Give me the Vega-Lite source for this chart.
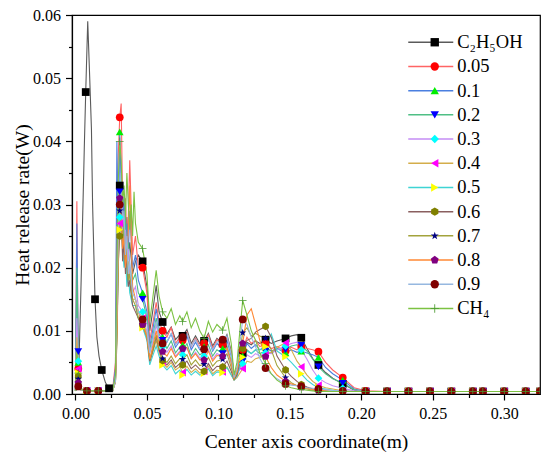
{
  "$schema": "https://vega.github.io/schema/vega-lite/v6.json",
  "width": 468,
  "height": 379,
  "autosize": {"type": "none"},
  "padding": {"left": 72, "top": 15, "right": 10, "bottom": 68},
  "background": "white",
  "data": {
    "values": [
      {"s":"C₂H₅OH","x":0,"y":0.0005},{"s":"C₂H₅OH","x":0.0015,"y":0.0008},{"s":"C₂H₅OH","x":0.0025,"y":0.005},{"s":"C₂H₅OH","x":0.004,"y":0.018},{"s":"C₂H₅OH","x":0.0058,"y":0.035},{"s":"C₂H₅OH","x":0.0062,"y":0.039},{"s":"C₂H₅OH","x":0.0072,"y":0.0478},{"s":"C₂H₅OH","x":0.0086,"y":0.059},{"s":"C₂H₅OH","x":0.01,"y":0.05},{"s":"C₂H₅OH","x":0.0112,"y":0.042},{"s":"C₂H₅OH","x":0.012,"y":0.03},{"s":"C₂H₅OH","x":0.0137,"y":0.015},{"s":"C₂H₅OH","x":0.015,"y":0.009},{"s":"C₂H₅OH","x":0.0165,"y":0.006},{"s":"C₂H₅OH","x":0.0184,"y":0.0038},{"s":"C₂H₅OH","x":0.021,"y":0.0018},{"s":"C₂H₅OH","x":0.0235,"y":0.0009},{"s":"C₂H₅OH","x":0.026,"y":0.0005},
      {"s":"C₂H₅OH","x":0.028,"y":0.003},{"s":"C₂H₅OH","x":0.029,"y":0.015},{"s":"C₂H₅OH","x":0.03,"y":0.027},{"s":"C₂H₅OH","x":0.031,"y":0.033},{"s":"C₂H₅OH","x":0.032,"y":0.029},{"s":"C₂H₅OH","x":0.033,"y":0.027},{"s":"C₂H₅OH","x":0.034,"y":0.031},{"s":"C₂H₅OH","x":0.035,"y":0.025},{"s":"C₂H₅OH","x":0.036,"y":0.028},{"s":"C₂H₅OH","x":0.037,"y":0.022},{"s":"C₂H₅OH","x":0.038,"y":0.024},{"s":"C₂H₅OH","x":0.04,"y":0.019},{"s":"C₂H₅OH","x":0.042,"y":0.021},{"s":"C₂H₅OH","x":0.044,"y":0.022},{"s":"C₂H₅OH","x":0.047,"y":0.021},
      {"s":"C₂H₅OH","x":0.05,"y":0.017},{"s":"C₂H₅OH","x":0.052,"y":0.01},{"s":"C₂H₅OH","x":0.054,"y":0.013},{"s":"C₂H₅OH","x":0.0565,"y":0.0172},{"s":"C₂H₅OH","x":0.0585,"y":0.013},{"s":"C₂H₅OH","x":0.061,"y":0.0114},{"s":"C₂H₅OH","x":0.064,"y":0.0095},{"s":"C₂H₅OH","x":0.067,"y":0.0106},{"s":"C₂H₅OH","x":0.07,"y":0.0086},{"s":"C₂H₅OH","x":0.073,"y":0.0094},{"s":"C₂H₅OH","x":0.075,"y":0.0092},{"s":"C₂H₅OH","x":0.078,"y":0.0102},{"s":"C₂H₅OH","x":0.081,"y":0.008},{"s":"C₂H₅OH","x":0.084,"y":0.0092},{"s":"C₂H₅OH","x":0.087,"y":0.008},{"s":"C₂H₅OH","x":0.09,"y":0.0084},{"s":"C₂H₅OH","x":0.093,"y":0.0096},{"s":"C₂H₅OH","x":0.096,"y":0.0076},{"s":"C₂H₅OH","x":0.099,"y":0.0088},{"s":"C₂H₅OH","x":0.103,"y":0.008},{"s":"C₂H₅OH","x":0.106,"y":0.0094},{"s":"C₂H₅OH","x":0.109,"y":0.0068},{"s":"C₂H₅OH","x":0.111,"y":0.0028},
      {"s":"C₂H₅OH","x":0.113,"y":0.004},{"s":"C₂H₅OH","x":0.117,"y":0.0065},{"s":"C₂H₅OH","x":0.12,"y":0.0082},{"s":"C₂H₅OH","x":0.123,"y":0.0078},{"s":"C₂H₅OH","x":0.126,"y":0.0084},{"s":"C₂H₅OH","x":0.129,"y":0.008},{"s":"C₂H₅OH","x":0.133,"y":0.0086},{"s":"C₂H₅OH","x":0.137,"y":0.008},{"s":"C₂H₅OH","x":0.141,"y":0.0084},{"s":"C₂H₅OH","x":0.147,"y":0.0088},{"s":"C₂H₅OH","x":0.151,"y":0.0092},{"s":"C₂H₅OH","x":0.155,"y":0.0094},{"s":"C₂H₅OH","x":0.158,"y":0.0089},{"s":"C₂H₅OH","x":0.162,"y":0.0072},{"s":"C₂H₅OH","x":0.166,"y":0.0056},{"s":"C₂H₅OH","x":0.17,"y":0.0046},{"s":"C₂H₅OH","x":0.175,"y":0.0034},{"s":"C₂H₅OH","x":0.18,"y":0.0025},{"s":"C₂H₅OH","x":0.187,"y":0.0016},{"s":"C₂H₅OH","x":0.195,"y":0.0006},{"s":"C₂H₅OH","x":0.203,"y":0.0004},
      {"s":"C₂H₅OH","x":0.218,"y":0.0004},{"s":"C₂H₅OH","x":0.233,"y":0.0004},{"s":"C₂H₅OH","x":0.248,"y":0.0004},{"s":"C₂H₅OH","x":0.263,"y":0.0004},{"s":"C₂H₅OH","x":0.278,"y":0.0004},{"s":"C₂H₅OH","x":0.285,"y":0.0004},{"s":"C₂H₅OH","x":0.3,"y":0.0004},{"s":"C₂H₅OH","x":0.315,"y":0.0004},{"s":"C₂H₅OH","x":0.325,"y":0.0004},

      {"s":"0.05","x":0,"y":0.0005},{"s":"0.05","x":0.001,"y":0.0305},{"s":"0.05","x":0.002,"y":0.004},{"s":"0.05","x":0.004,"y":0.0008},{"s":"0.05","x":0.008,"y":0.0005},{"s":"0.05","x":0.016,"y":0.0005},{"s":"0.05","x":0.02,"y":0.0005},{"s":"0.05","x":0.026,"y":0.0006},
      {"s":"0.05","x":0.028,"y":0.005},{"s":"0.05","x":0.029,"y":0.03},{"s":"0.05","x":0.03,"y":0.038},{"s":"0.05","x":0.031,"y":0.0438},{"s":"0.05","x":0.032,"y":0.046},{"s":"0.05","x":0.033,"y":0.03},{"s":"0.05","x":0.034,"y":0.026},{"s":"0.05","x":0.035,"y":0.031},{"s":"0.05","x":0.036,"y":0.024},{"s":"0.05","x":0.037,"y":0.028},{"s":"0.05","x":0.038,"y":0.037},{"s":"0.05","x":0.04,"y":0.022},{"s":"0.05","x":0.042,"y":0.025},{"s":"0.05","x":0.044,"y":0.02},{"s":"0.05","x":0.047,"y":0.02},
      {"s":"0.05","x":0.05,"y":0.016},{"s":"0.05","x":0.052,"y":0.0085},{"s":"0.05","x":0.054,"y":0.011},{"s":"0.05","x":0.0565,"y":0.0145},{"s":"0.05","x":0.0585,"y":0.0115},{"s":"0.05","x":0.061,"y":0.01},{"s":"0.05","x":0.064,"y":0.009},{"s":"0.05","x":0.067,"y":0.0105},{"s":"0.05","x":0.07,"y":0.008},{"s":"0.05","x":0.073,"y":0.009},{"s":"0.05","x":0.075,"y":0.0085},{"s":"0.05","x":0.078,"y":0.0098},{"s":"0.05","x":0.081,"y":0.0075},{"s":"0.05","x":0.084,"y":0.0088},{"s":"0.05","x":0.087,"y":0.0076},{"s":"0.05","x":0.09,"y":0.008},{"s":"0.05","x":0.093,"y":0.0094},{"s":"0.05","x":0.096,"y":0.0072},{"s":"0.05","x":0.099,"y":0.0086},{"s":"0.05","x":0.103,"y":0.0078},{"s":"0.05","x":0.106,"y":0.009},{"s":"0.05","x":0.109,"y":0.0065},{"s":"0.05","x":0.111,"y":0.003},
      {"s":"0.05","x":0.113,"y":0.004},{"s":"0.05","x":0.117,"y":0.007},{"s":"0.05","x":0.12,"y":0.009},{"s":"0.05","x":0.123,"y":0.008},{"s":"0.05","x":0.126,"y":0.0085},{"s":"0.05","x":0.129,"y":0.0075},{"s":"0.05","x":0.133,"y":0.008},{"s":"0.05","x":0.137,"y":0.0072},{"s":"0.05","x":0.141,"y":0.0075},{"s":"0.05","x":0.147,"y":0.0068},{"s":"0.05","x":0.151,"y":0.0074},{"s":"0.05","x":0.155,"y":0.007},{"s":"0.05","x":0.158,"y":0.0075},{"s":"0.05","x":0.162,"y":0.0072},{"s":"0.05","x":0.166,"y":0.007},{"s":"0.05","x":0.17,"y":0.0067},{"s":"0.05","x":0.175,"y":0.005},{"s":"0.05","x":0.18,"y":0.0038},{"s":"0.05","x":0.187,"y":0.0026},{"s":"0.05","x":0.195,"y":0.001},{"s":"0.05","x":0.203,"y":0.0005},
      {"s":"0.05","x":0.218,"y":0.0004},{"s":"0.05","x":0.233,"y":0.0004},{"s":"0.05","x":0.248,"y":0.0004},{"s":"0.05","x":0.263,"y":0.0004},{"s":"0.05","x":0.278,"y":0.0004},{"s":"0.05","x":0.285,"y":0.0004},{"s":"0.05","x":0.3,"y":0.0004},{"s":"0.05","x":0.315,"y":0.0004},{"s":"0.05","x":0.325,"y":0.0004},

      {"s":"0.1","x":0,"y":0.0005},{"s":"0.1","x":0.001,"y":0.027},{"s":"0.1","x":0.002,"y":0.005},{"s":"0.1","x":0.004,"y":0.0008},{"s":"0.1","x":0.008,"y":0.0005},{"s":"0.1","x":0.016,"y":0.0005},{"s":"0.1","x":0.02,"y":0.0005},{"s":"0.1","x":0.026,"y":0.0006},
      {"s":"0.1","x":0.028,"y":0.004},{"s":"0.1","x":0.029,"y":0.04},{"s":"0.1","x":0.03,"y":0.022},{"s":"0.1","x":0.031,"y":0.0415},{"s":"0.1","x":0.032,"y":0.033},{"s":"0.1","x":0.033,"y":0.028},{"s":"0.1","x":0.034,"y":0.031},{"s":"0.1","x":0.035,"y":0.025},{"s":"0.1","x":0.036,"y":0.027},{"s":"0.1","x":0.037,"y":0.022},{"s":"0.1","x":0.038,"y":0.029},{"s":"0.1","x":0.04,"y":0.02},{"s":"0.1","x":0.042,"y":0.022},{"s":"0.1","x":0.044,"y":0.018},{"s":"0.1","x":0.047,"y":0.016},
      {"s":"0.1","x":0.05,"y":0.013},{"s":"0.1","x":0.052,"y":0.0075},{"s":"0.1","x":0.054,"y":0.01},{"s":"0.1","x":0.0565,"y":0.0135},{"s":"0.1","x":0.0585,"y":0.0105},{"s":"0.1","x":0.061,"y":0.009},{"s":"0.1","x":0.064,"y":0.0082},{"s":"0.1","x":0.067,"y":0.0095},{"s":"0.1","x":0.07,"y":0.0074},{"s":"0.1","x":0.073,"y":0.0084},{"s":"0.1","x":0.075,"y":0.0078},{"s":"0.1","x":0.078,"y":0.0092},{"s":"0.1","x":0.081,"y":0.007},{"s":"0.1","x":0.084,"y":0.0082},{"s":"0.1","x":0.087,"y":0.007},{"s":"0.1","x":0.09,"y":0.0075},{"s":"0.1","x":0.093,"y":0.0088},{"s":"0.1","x":0.096,"y":0.0068},{"s":"0.1","x":0.099,"y":0.008},{"s":"0.1","x":0.103,"y":0.0072},{"s":"0.1","x":0.106,"y":0.0085},{"s":"0.1","x":0.109,"y":0.006},{"s":"0.1","x":0.111,"y":0.0028},
      {"s":"0.1","x":0.113,"y":0.0036},{"s":"0.1","x":0.117,"y":0.006},{"s":"0.1","x":0.12,"y":0.008},{"s":"0.1","x":0.123,"y":0.0072},{"s":"0.1","x":0.126,"y":0.0078},{"s":"0.1","x":0.129,"y":0.007},{"s":"0.1","x":0.133,"y":0.0074},{"s":"0.1","x":0.137,"y":0.0068},{"s":"0.1","x":0.141,"y":0.0072},{"s":"0.1","x":0.147,"y":0.0065},{"s":"0.1","x":0.151,"y":0.007},{"s":"0.1","x":0.155,"y":0.0066},{"s":"0.1","x":0.158,"y":0.0068},{"s":"0.1","x":0.162,"y":0.0065},{"s":"0.1","x":0.166,"y":0.0062},{"s":"0.1","x":0.17,"y":0.0058},{"s":"0.1","x":0.175,"y":0.0042},{"s":"0.1","x":0.18,"y":0.0032},{"s":"0.1","x":0.187,"y":0.0022},{"s":"0.1","x":0.195,"y":0.0008},{"s":"0.1","x":0.203,"y":0.0004},
      {"s":"0.1","x":0.218,"y":0.0004},{"s":"0.1","x":0.233,"y":0.0004},{"s":"0.1","x":0.248,"y":0.0004},{"s":"0.1","x":0.263,"y":0.0004},{"s":"0.1","x":0.278,"y":0.0004},{"s":"0.1","x":0.285,"y":0.0004},{"s":"0.1","x":0.3,"y":0.0004},{"s":"0.1","x":0.315,"y":0.0004},{"s":"0.1","x":0.325,"y":0.0004},

      {"s":"0.2","x":0,"y":0.0005},{"s":"0.2","x":0.001,"y":0.02},{"s":"0.2","x":0.002,"y":0.0067},{"s":"0.2","x":0.004,"y":0.0008},{"s":"0.2","x":0.008,"y":0.0005},{"s":"0.2","x":0.016,"y":0.0005},{"s":"0.2","x":0.02,"y":0.0005},{"s":"0.2","x":0.026,"y":0.0005},
      {"s":"0.2","x":0.028,"y":0.003},{"s":"0.2","x":0.029,"y":0.018},{"s":"0.2","x":0.03,"y":0.028},{"s":"0.2","x":0.031,"y":0.032},{"s":"0.2","x":0.032,"y":0.03},{"s":"0.2","x":0.033,"y":0.027},{"s":"0.2","x":0.034,"y":0.024},{"s":"0.2","x":0.035,"y":0.028},{"s":"0.2","x":0.036,"y":0.022},{"s":"0.2","x":0.037,"y":0.024},{"s":"0.2","x":0.038,"y":0.02},{"s":"0.2","x":0.04,"y":0.018},{"s":"0.2","x":0.042,"y":0.019},{"s":"0.2","x":0.044,"y":0.016},{"s":"0.2","x":0.047,"y":0.015},
      {"s":"0.2","x":0.05,"y":0.012},{"s":"0.2","x":0.052,"y":0.007},{"s":"0.2","x":0.054,"y":0.009},{"s":"0.2","x":0.0565,"y":0.012},{"s":"0.2","x":0.0585,"y":0.0095},{"s":"0.2","x":0.061,"y":0.0085},{"s":"0.2","x":0.064,"y":0.0072},{"s":"0.2","x":0.067,"y":0.0084},{"s":"0.2","x":0.07,"y":0.0065},{"s":"0.2","x":0.073,"y":0.0074},{"s":"0.2","x":0.075,"y":0.0068},{"s":"0.2","x":0.078,"y":0.008},{"s":"0.2","x":0.081,"y":0.006},{"s":"0.2","x":0.084,"y":0.0072},{"s":"0.2","x":0.087,"y":0.0062},{"s":"0.2","x":0.09,"y":0.0066},{"s":"0.2","x":0.093,"y":0.0078},{"s":"0.2","x":0.096,"y":0.006},{"s":"0.2","x":0.099,"y":0.007},{"s":"0.2","x":0.103,"y":0.0064},{"s":"0.2","x":0.106,"y":0.0076},{"s":"0.2","x":0.109,"y":0.0052},{"s":"0.2","x":0.111,"y":0.0026},
      {"s":"0.2","x":0.113,"y":0.0032},{"s":"0.2","x":0.117,"y":0.0052},{"s":"0.2","x":0.12,"y":0.007},{"s":"0.2","x":0.123,"y":0.0064},{"s":"0.2","x":0.126,"y":0.007},{"s":"0.2","x":0.129,"y":0.0064},{"s":"0.2","x":0.133,"y":0.0068},{"s":"0.2","x":0.137,"y":0.0065},{"s":"0.2","x":0.141,"y":0.0072},{"s":"0.2","x":0.147,"y":0.007},{"s":"0.2","x":0.151,"y":0.0076},{"s":"0.2","x":0.155,"y":0.0078},{"s":"0.2","x":0.158,"y":0.0077},{"s":"0.2","x":0.162,"y":0.0068},{"s":"0.2","x":0.166,"y":0.0055},{"s":"0.2","x":0.17,"y":0.0043},{"s":"0.2","x":0.175,"y":0.0032},{"s":"0.2","x":0.18,"y":0.0024},{"s":"0.2","x":0.187,"y":0.0017},{"s":"0.2","x":0.195,"y":0.0007},{"s":"0.2","x":0.203,"y":0.0004},
      {"s":"0.2","x":0.218,"y":0.0004},{"s":"0.2","x":0.233,"y":0.0004},{"s":"0.2","x":0.248,"y":0.0004},{"s":"0.2","x":0.263,"y":0.0004},{"s":"0.2","x":0.278,"y":0.0004},{"s":"0.2","x":0.285,"y":0.0004},{"s":"0.2","x":0.3,"y":0.0004},{"s":"0.2","x":0.315,"y":0.0004},{"s":"0.2","x":0.325,"y":0.0004},

      {"s":"0.3","x":0,"y":0.0005},{"s":"0.3","x":0.001,"y":0.012},{"s":"0.3","x":0.002,"y":0.0052},{"s":"0.3","x":0.004,"y":0.0007},{"s":"0.3","x":0.008,"y":0.0005},{"s":"0.3","x":0.016,"y":0.0005},{"s":"0.3","x":0.02,"y":0.0005},{"s":"0.3","x":0.026,"y":0.0005},
      {"s":"0.3","x":0.028,"y":0.003},{"s":"0.3","x":0.029,"y":0.015},{"s":"0.3","x":0.03,"y":0.026},{"s":"0.3","x":0.031,"y":0.028},{"s":"0.3","x":0.032,"y":0.033},{"s":"0.3","x":0.033,"y":0.025},{"s":"0.3","x":0.034,"y":0.022},{"s":"0.3","x":0.035,"y":0.026},{"s":"0.3","x":0.036,"y":0.02},{"s":"0.3","x":0.037,"y":0.023},{"s":"0.3","x":0.038,"y":0.019},{"s":"0.3","x":0.04,"y":0.016},{"s":"0.3","x":0.042,"y":0.017},{"s":"0.3","x":0.044,"y":0.014},{"s":"0.3","x":0.047,"y":0.013},
      {"s":"0.3","x":0.05,"y":0.011},{"s":"0.3","x":0.052,"y":0.0065},{"s":"0.3","x":0.054,"y":0.008},{"s":"0.3","x":0.0565,"y":0.011},{"s":"0.3","x":0.0585,"y":0.0086},{"s":"0.3","x":0.061,"y":0.0075},{"s":"0.3","x":0.064,"y":0.0066},{"s":"0.3","x":0.067,"y":0.0076},{"s":"0.3","x":0.07,"y":0.006},{"s":"0.3","x":0.073,"y":0.0068},{"s":"0.3","x":0.075,"y":0.0062},{"s":"0.3","x":0.078,"y":0.0073},{"s":"0.3","x":0.081,"y":0.0056},{"s":"0.3","x":0.084,"y":0.0066},{"s":"0.3","x":0.087,"y":0.0057},{"s":"0.3","x":0.09,"y":0.006},{"s":"0.3","x":0.093,"y":0.0071},{"s":"0.3","x":0.096,"y":0.0055},{"s":"0.3","x":0.099,"y":0.0064},{"s":"0.3","x":0.103,"y":0.0059},{"s":"0.3","x":0.106,"y":0.007},{"s":"0.3","x":0.109,"y":0.0048},{"s":"0.3","x":0.111,"y":0.0025},
      {"s":"0.3","x":0.113,"y":0.003},{"s":"0.3","x":0.117,"y":0.0048},{"s":"0.3","x":0.12,"y":0.0062},{"s":"0.3","x":0.123,"y":0.0058},{"s":"0.3","x":0.126,"y":0.0064},{"s":"0.3","x":0.129,"y":0.006},{"s":"0.3","x":0.133,"y":0.0065},{"s":"0.3","x":0.137,"y":0.0064},{"s":"0.3","x":0.141,"y":0.007},{"s":"0.3","x":0.147,"y":0.0076},{"s":"0.3","x":0.151,"y":0.008},{"s":"0.3","x":0.155,"y":0.0082},{"s":"0.3","x":0.158,"y":0.007},{"s":"0.3","x":0.162,"y":0.0055},{"s":"0.3","x":0.166,"y":0.0038},{"s":"0.3","x":0.17,"y":0.0025},{"s":"0.3","x":0.175,"y":0.0018},{"s":"0.3","x":0.18,"y":0.0013},{"s":"0.3","x":0.187,"y":0.0009},{"s":"0.3","x":0.195,"y":0.0005},{"s":"0.3","x":0.203,"y":0.0004},
      {"s":"0.3","x":0.218,"y":0.0004},{"s":"0.3","x":0.233,"y":0.0004},{"s":"0.3","x":0.248,"y":0.0004},{"s":"0.3","x":0.263,"y":0.0004},{"s":"0.3","x":0.278,"y":0.0004},{"s":"0.3","x":0.285,"y":0.0004},{"s":"0.3","x":0.3,"y":0.0004},{"s":"0.3","x":0.315,"y":0.0004},{"s":"0.3","x":0.325,"y":0.0004},

      {"s":"0.4","x":0,"y":0.0005},{"s":"0.4","x":0.001,"y":0.009},{"s":"0.4","x":0.002,"y":0.004},{"s":"0.4","x":0.004,"y":0.0007},{"s":"0.4","x":0.008,"y":0.0005},{"s":"0.4","x":0.016,"y":0.0005},{"s":"0.4","x":0.02,"y":0.0005},{"s":"0.4","x":0.026,"y":0.0005},
      {"s":"0.4","x":0.028,"y":0.002},{"s":"0.4","x":0.029,"y":0.012},{"s":"0.4","x":0.03,"y":0.024},{"s":"0.4","x":0.031,"y":0.027},{"s":"0.4","x":0.032,"y":0.031},{"s":"0.4","x":0.033,"y":0.022},{"s":"0.4","x":0.034,"y":0.021},{"s":"0.4","x":0.035,"y":0.024},{"s":"0.4","x":0.036,"y":0.018},{"s":"0.4","x":0.037,"y":0.021},{"s":"0.4","x":0.038,"y":0.017},{"s":"0.4","x":0.04,"y":0.015},{"s":"0.4","x":0.042,"y":0.015},{"s":"0.4","x":0.044,"y":0.013},{"s":"0.4","x":0.047,"y":0.012},
      {"s":"0.4","x":0.05,"y":0.0095},{"s":"0.4","x":0.052,"y":0.005},{"s":"0.4","x":0.054,"y":0.0065},{"s":"0.4","x":0.0565,"y":0.0085},{"s":"0.4","x":0.0585,"y":0.0065},{"s":"0.4","x":0.061,"y":0.005},{"s":"0.4","x":0.064,"y":0.0042},{"s":"0.4","x":0.067,"y":0.005},{"s":"0.4","x":0.07,"y":0.0038},{"s":"0.4","x":0.073,"y":0.0043},{"s":"0.4","x":0.075,"y":0.0034},{"s":"0.4","x":0.078,"y":0.0044},{"s":"0.4","x":0.081,"y":0.0034},{"s":"0.4","x":0.084,"y":0.004},{"s":"0.4","x":0.087,"y":0.0033},{"s":"0.4","x":0.09,"y":0.0036},{"s":"0.4","x":0.093,"y":0.0044},{"s":"0.4","x":0.096,"y":0.0032},{"s":"0.4","x":0.099,"y":0.0038},{"s":"0.4","x":0.103,"y":0.0035},{"s":"0.4","x":0.106,"y":0.0043},{"s":"0.4","x":0.109,"y":0.003},{"s":"0.4","x":0.111,"y":0.0022},
      {"s":"0.4","x":0.113,"y":0.0026},{"s":"0.4","x":0.117,"y":0.004},{"s":"0.4","x":0.12,"y":0.0052},{"s":"0.4","x":0.123,"y":0.005},{"s":"0.4","x":0.126,"y":0.0056},{"s":"0.4","x":0.129,"y":0.0058},{"s":"0.4","x":0.133,"y":0.0062},{"s":"0.4","x":0.137,"y":0.0066},{"s":"0.4","x":0.141,"y":0.0074},{"s":"0.4","x":0.147,"y":0.0081},{"s":"0.4","x":0.151,"y":0.007},{"s":"0.4","x":0.155,"y":0.0052},{"s":"0.4","x":0.158,"y":0.0043},{"s":"0.4","x":0.162,"y":0.003},{"s":"0.4","x":0.166,"y":0.002},{"s":"0.4","x":0.17,"y":0.0014},{"s":"0.4","x":0.175,"y":0.001},{"s":"0.4","x":0.18,"y":0.0008},{"s":"0.4","x":0.187,"y":0.0005},{"s":"0.4","x":0.195,"y":0.0004},{"s":"0.4","x":0.203,"y":0.0004},
      {"s":"0.4","x":0.218,"y":0.0004},{"s":"0.4","x":0.233,"y":0.0004},{"s":"0.4","x":0.248,"y":0.0004},{"s":"0.4","x":0.263,"y":0.0004},{"s":"0.4","x":0.278,"y":0.0004},{"s":"0.4","x":0.285,"y":0.0004},{"s":"0.4","x":0.3,"y":0.0004},{"s":"0.4","x":0.315,"y":0.0004},{"s":"0.4","x":0.325,"y":0.0004},

      {"s":"0.5","x":0,"y":0.0005},{"s":"0.5","x":0.001,"y":0.006},{"s":"0.5","x":0.002,"y":0.0033},{"s":"0.5","x":0.004,"y":0.0006},{"s":"0.5","x":0.008,"y":0.0005},{"s":"0.5","x":0.016,"y":0.0005},{"s":"0.5","x":0.02,"y":0.0005},{"s":"0.5","x":0.026,"y":0.0005},
      {"s":"0.5","x":0.028,"y":0.002},{"s":"0.5","x":0.029,"y":0.01},{"s":"0.5","x":0.03,"y":0.022},{"s":"0.5","x":0.031,"y":0.026},{"s":"0.5","x":0.032,"y":0.028},{"s":"0.5","x":0.033,"y":0.023},{"s":"0.5","x":0.034,"y":0.02},{"s":"0.5","x":0.035,"y":0.022},{"s":"0.5","x":0.036,"y":0.017},{"s":"0.5","x":0.037,"y":0.019},{"s":"0.5","x":0.038,"y":0.016},{"s":"0.5","x":0.04,"y":0.014},{"s":"0.5","x":0.042,"y":0.014},{"s":"0.5","x":0.044,"y":0.012},{"s":"0.5","x":0.047,"y":0.0105},
      {"s":"0.5","x":0.05,"y":0.0085},{"s":"0.5","x":0.052,"y":0.0046},{"s":"0.5","x":0.054,"y":0.006},{"s":"0.5","x":0.0565,"y":0.0076},{"s":"0.5","x":0.0585,"y":0.006},{"s":"0.5","x":0.061,"y":0.0046},{"s":"0.5","x":0.064,"y":0.0038},{"s":"0.5","x":0.067,"y":0.0045},{"s":"0.5","x":0.07,"y":0.0032},{"s":"0.5","x":0.073,"y":0.0038},{"s":"0.5","x":0.075,"y":0.003},{"s":"0.5","x":0.078,"y":0.0039},{"s":"0.5","x":0.081,"y":0.003},{"s":"0.5","x":0.084,"y":0.0036},{"s":"0.5","x":0.087,"y":0.003},{"s":"0.5","x":0.09,"y":0.0033},{"s":"0.5","x":0.093,"y":0.004},{"s":"0.5","x":0.096,"y":0.0029},{"s":"0.5","x":0.099,"y":0.0035},{"s":"0.5","x":0.103,"y":0.0034},{"s":"0.5","x":0.106,"y":0.0042},{"s":"0.5","x":0.109,"y":0.003},{"s":"0.5","x":0.111,"y":0.0022},
      {"s":"0.5","x":0.113,"y":0.0028},{"s":"0.5","x":0.117,"y":0.0058},{"s":"0.5","x":0.12,"y":0.0068},{"s":"0.5","x":0.123,"y":0.0064},{"s":"0.5","x":0.126,"y":0.007},{"s":"0.5","x":0.129,"y":0.007},{"s":"0.5","x":0.133,"y":0.0075},{"s":"0.5","x":0.137,"y":0.0095},{"s":"0.5","x":0.141,"y":0.0068},{"s":"0.5","x":0.147,"y":0.0059},{"s":"0.5","x":0.151,"y":0.005},{"s":"0.5","x":0.155,"y":0.004},{"s":"0.5","x":0.158,"y":0.0032},{"s":"0.5","x":0.162,"y":0.0022},{"s":"0.5","x":0.166,"y":0.0015},{"s":"0.5","x":0.17,"y":0.001},{"s":"0.5","x":0.175,"y":0.0008},{"s":"0.5","x":0.18,"y":0.0006},{"s":"0.5","x":0.187,"y":0.0004},{"s":"0.5","x":0.195,"y":0.0004},{"s":"0.5","x":0.203,"y":0.0004},
      {"s":"0.5","x":0.218,"y":0.0004},{"s":"0.5","x":0.233,"y":0.0004},{"s":"0.5","x":0.248,"y":0.0004},{"s":"0.5","x":0.263,"y":0.0004},{"s":"0.5","x":0.278,"y":0.0004},{"s":"0.5","x":0.285,"y":0.0004},{"s":"0.5","x":0.3,"y":0.0004},{"s":"0.5","x":0.315,"y":0.0004},{"s":"0.5","x":0.325,"y":0.0004},

      {"s":"0.6","x":0,"y":0.0005},{"s":"0.6","x":0.001,"y":0.005},{"s":"0.6","x":0.002,"y":0.0028},{"s":"0.6","x":0.004,"y":0.0006},{"s":"0.6","x":0.008,"y":0.0005},{"s":"0.6","x":0.016,"y":0.0005},{"s":"0.6","x":0.02,"y":0.0005},{"s":"0.6","x":0.026,"y":0.0005},
      {"s":"0.6","x":0.028,"y":0.002},{"s":"0.6","x":0.029,"y":0.009},{"s":"0.6","x":0.03,"y":0.021},{"s":"0.6","x":0.031,"y":0.025},{"s":"0.6","x":0.032,"y":0.03},{"s":"0.6","x":0.033,"y":0.021},{"s":"0.6","x":0.034,"y":0.024},{"s":"0.6","x":0.035,"y":0.019},{"s":"0.6","x":0.036,"y":0.022},{"s":"0.6","x":0.037,"y":0.017},{"s":"0.6","x":0.038,"y":0.018},{"s":"0.6","x":0.04,"y":0.014},{"s":"0.6","x":0.042,"y":0.013},{"s":"0.6","x":0.044,"y":0.012},{"s":"0.6","x":0.047,"y":0.011},
      {"s":"0.6","x":0.05,"y":0.009},{"s":"0.6","x":0.052,"y":0.0052},{"s":"0.6","x":0.054,"y":0.0068},{"s":"0.6","x":0.0565,"y":0.009},{"s":"0.6","x":0.0585,"y":0.007},{"s":"0.6","x":0.061,"y":0.0053},{"s":"0.6","x":0.064,"y":0.0046},{"s":"0.6","x":0.067,"y":0.0054},{"s":"0.6","x":0.07,"y":0.0042},{"s":"0.6","x":0.073,"y":0.0048},{"s":"0.6","x":0.075,"y":0.0046},{"s":"0.6","x":0.078,"y":0.0052},{"s":"0.6","x":0.081,"y":0.004},{"s":"0.6","x":0.084,"y":0.0046},{"s":"0.6","x":0.087,"y":0.0039},{"s":"0.6","x":0.09,"y":0.0036},{"s":"0.6","x":0.093,"y":0.0048},{"s":"0.6","x":0.096,"y":0.0037},{"s":"0.6","x":0.099,"y":0.0044},{"s":"0.6","x":0.103,"y":0.0043},{"s":"0.6","x":0.106,"y":0.0052},{"s":"0.6","x":0.109,"y":0.0036},{"s":"0.6","x":0.111,"y":0.0023},
      {"s":"0.6","x":0.113,"y":0.003},{"s":"0.6","x":0.117,"y":0.0072},{"s":"0.6","x":0.12,"y":0.0085},{"s":"0.6","x":0.123,"y":0.0088},{"s":"0.6","x":0.126,"y":0.0098},{"s":"0.6","x":0.129,"y":0.0102},{"s":"0.6","x":0.133,"y":0.0107},{"s":"0.6","x":0.137,"y":0.009},{"s":"0.6","x":0.141,"y":0.006},{"s":"0.6","x":0.147,"y":0.0038},{"s":"0.6","x":0.151,"y":0.0028},{"s":"0.6","x":0.155,"y":0.002},{"s":"0.6","x":0.158,"y":0.0015},{"s":"0.6","x":0.162,"y":0.0011},{"s":"0.6","x":0.166,"y":0.0008},{"s":"0.6","x":0.17,"y":0.0006},{"s":"0.6","x":0.175,"y":0.0005},{"s":"0.6","x":0.18,"y":0.0004},{"s":"0.6","x":0.187,"y":0.0004},{"s":"0.6","x":0.195,"y":0.0004},{"s":"0.6","x":0.203,"y":0.0004},
      {"s":"0.6","x":0.218,"y":0.0004},{"s":"0.6","x":0.233,"y":0.0004},{"s":"0.6","x":0.248,"y":0.0004},{"s":"0.6","x":0.263,"y":0.0004},{"s":"0.6","x":0.278,"y":0.0004},{"s":"0.6","x":0.285,"y":0.0004},{"s":"0.6","x":0.3,"y":0.0004},{"s":"0.6","x":0.315,"y":0.0004},{"s":"0.6","x":0.325,"y":0.0004},

      {"s":"0.7","x":0,"y":0.0005},{"s":"0.7","x":0.001,"y":0.005},{"s":"0.7","x":0.002,"y":0.0024},{"s":"0.7","x":0.004,"y":0.0006},{"s":"0.7","x":0.008,"y":0.0005},{"s":"0.7","x":0.016,"y":0.0005},{"s":"0.7","x":0.02,"y":0.0005},{"s":"0.7","x":0.026,"y":0.0005},
      {"s":"0.7","x":0.028,"y":0.002},{"s":"0.7","x":0.029,"y":0.008},{"s":"0.7","x":0.03,"y":0.02},{"s":"0.7","x":0.031,"y":0.029},{"s":"0.7","x":0.032,"y":0.027},{"s":"0.7","x":0.033,"y":0.024},{"s":"0.7","x":0.034,"y":0.028},{"s":"0.7","x":0.035,"y":0.021},{"s":"0.7","x":0.036,"y":0.023},{"s":"0.7","x":0.037,"y":0.018},{"s":"0.7","x":0.038,"y":0.019},{"s":"0.7","x":0.04,"y":0.015},{"s":"0.7","x":0.042,"y":0.014},{"s":"0.7","x":0.044,"y":0.012},{"s":"0.7","x":0.047,"y":0.011},
      {"s":"0.7","x":0.05,"y":0.009},{"s":"0.7","x":0.052,"y":0.0055},{"s":"0.7","x":0.054,"y":0.007},{"s":"0.7","x":0.0565,"y":0.0094},{"s":"0.7","x":0.0585,"y":0.0072},{"s":"0.7","x":0.061,"y":0.0056},{"s":"0.7","x":0.064,"y":0.005},{"s":"0.7","x":0.067,"y":0.006},{"s":"0.7","x":0.07,"y":0.0048},{"s":"0.7","x":0.073,"y":0.0056},{"s":"0.7","x":0.075,"y":0.0055},{"s":"0.7","x":0.078,"y":0.0062},{"s":"0.7","x":0.081,"y":0.0046},{"s":"0.7","x":0.084,"y":0.0054},{"s":"0.7","x":0.087,"y":0.0045},{"s":"0.7","x":0.09,"y":0.0047},{"s":"0.7","x":0.093,"y":0.0058},{"s":"0.7","x":0.096,"y":0.0044},{"s":"0.7","x":0.099,"y":0.0052},{"s":"0.7","x":0.103,"y":0.0055},{"s":"0.7","x":0.106,"y":0.0064},{"s":"0.7","x":0.109,"y":0.0042},{"s":"0.7","x":0.111,"y":0.0024},
      {"s":"0.7","x":0.113,"y":0.0035},{"s":"0.7","x":0.117,"y":0.0097},{"s":"0.7","x":0.12,"y":0.0105},{"s":"0.7","x":0.123,"y":0.0092},{"s":"0.7","x":0.126,"y":0.0096},{"s":"0.7","x":0.129,"y":0.0092},{"s":"0.7","x":0.133,"y":0.0088},{"s":"0.7","x":0.137,"y":0.007},{"s":"0.7","x":0.141,"y":0.0045},{"s":"0.7","x":0.147,"y":0.0026},{"s":"0.7","x":0.151,"y":0.0018},{"s":"0.7","x":0.155,"y":0.0013},{"s":"0.7","x":0.158,"y":0.001},{"s":"0.7","x":0.162,"y":0.0008},{"s":"0.7","x":0.166,"y":0.0006},{"s":"0.7","x":0.17,"y":0.0005},{"s":"0.7","x":0.175,"y":0.0004},{"s":"0.7","x":0.18,"y":0.0004},{"s":"0.7","x":0.187,"y":0.0004},{"s":"0.7","x":0.195,"y":0.0004},{"s":"0.7","x":0.203,"y":0.0004},
      {"s":"0.7","x":0.218,"y":0.0004},{"s":"0.7","x":0.233,"y":0.0004},{"s":"0.7","x":0.248,"y":0.0004},{"s":"0.7","x":0.263,"y":0.0004},{"s":"0.7","x":0.278,"y":0.0004},{"s":"0.7","x":0.285,"y":0.0004},{"s":"0.7","x":0.3,"y":0.0004},{"s":"0.7","x":0.315,"y":0.0004},{"s":"0.7","x":0.325,"y":0.0004},

      {"s":"0.8","x":0,"y":0.0005},{"s":"0.8","x":0.001,"y":0.004},{"s":"0.8","x":0.002,"y":0.0018},{"s":"0.8","x":0.004,"y":0.0006},{"s":"0.8","x":0.008,"y":0.0005},{"s":"0.8","x":0.016,"y":0.0005},{"s":"0.8","x":0.02,"y":0.0005},{"s":"0.8","x":0.026,"y":0.0005},
      {"s":"0.8","x":0.028,"y":0.002},{"s":"0.8","x":0.029,"y":0.01},{"s":"0.8","x":0.03,"y":0.024},{"s":"0.8","x":0.031,"y":0.031},{"s":"0.8","x":0.032,"y":0.028},{"s":"0.8","x":0.033,"y":0.023},{"s":"0.8","x":0.034,"y":0.025},{"s":"0.8","x":0.035,"y":0.02},{"s":"0.8","x":0.036,"y":0.022},{"s":"0.8","x":0.037,"y":0.026},{"s":"0.8","x":0.038,"y":0.033},{"s":"0.8","x":0.04,"y":0.017},{"s":"0.8","x":0.042,"y":0.015},{"s":"0.8","x":0.044,"y":0.013},{"s":"0.8","x":0.047,"y":0.011},
      {"s":"0.8","x":0.05,"y":0.0092},{"s":"0.8","x":0.052,"y":0.0055},{"s":"0.8","x":0.054,"y":0.0075},{"s":"0.8","x":0.0565,"y":0.01},{"s":"0.8","x":0.0585,"y":0.008},{"s":"0.8","x":0.061,"y":0.0067},{"s":"0.8","x":0.064,"y":0.006},{"s":"0.8","x":0.067,"y":0.0072},{"s":"0.8","x":0.07,"y":0.0058},{"s":"0.8","x":0.073,"y":0.0066},{"s":"0.8","x":0.075,"y":0.0072},{"s":"0.8","x":0.078,"y":0.0074},{"s":"0.8","x":0.081,"y":0.0056},{"s":"0.8","x":0.084,"y":0.0064},{"s":"0.8","x":0.087,"y":0.0054},{"s":"0.8","x":0.09,"y":0.0054},{"s":"0.8","x":0.093,"y":0.0068},{"s":"0.8","x":0.096,"y":0.0052},{"s":"0.8","x":0.099,"y":0.0061},{"s":"0.8","x":0.103,"y":0.006},{"s":"0.8","x":0.106,"y":0.0073},{"s":"0.8","x":0.109,"y":0.005},{"s":"0.8","x":0.111,"y":0.0025},
      {"s":"0.8","x":0.113,"y":0.0035},{"s":"0.8","x":0.117,"y":0.008},{"s":"0.8","x":0.12,"y":0.0125},{"s":"0.8","x":0.123,"y":0.0135},{"s":"0.8","x":0.126,"y":0.011},{"s":"0.8","x":0.129,"y":0.0085},{"s":"0.8","x":0.133,"y":0.0059},{"s":"0.8","x":0.137,"y":0.0042},{"s":"0.8","x":0.141,"y":0.003},{"s":"0.8","x":0.147,"y":0.002},{"s":"0.8","x":0.151,"y":0.0016},{"s":"0.8","x":0.155,"y":0.0013},{"s":"0.8","x":0.158,"y":0.0012},{"s":"0.8","x":0.162,"y":0.0009},{"s":"0.8","x":0.166,"y":0.0007},{"s":"0.8","x":0.17,"y":0.0006},{"s":"0.8","x":0.175,"y":0.0005},{"s":"0.8","x":0.18,"y":0.0004},{"s":"0.8","x":0.187,"y":0.0004},{"s":"0.8","x":0.195,"y":0.0004},{"s":"0.8","x":0.203,"y":0.0004},
      {"s":"0.8","x":0.218,"y":0.0004},{"s":"0.8","x":0.233,"y":0.0004},{"s":"0.8","x":0.248,"y":0.0004},{"s":"0.8","x":0.263,"y":0.0004},{"s":"0.8","x":0.278,"y":0.0004},{"s":"0.8","x":0.285,"y":0.0004},{"s":"0.8","x":0.3,"y":0.0004},{"s":"0.8","x":0.315,"y":0.0004},{"s":"0.8","x":0.325,"y":0.0004},

      {"s":"0.9","x":0,"y":0.0005},{"s":"0.9","x":0.001,"y":0.003},{"s":"0.9","x":0.002,"y":0.0012},{"s":"0.9","x":0.004,"y":0.0006},{"s":"0.9","x":0.008,"y":0.0005},{"s":"0.9","x":0.016,"y":0.0005},{"s":"0.9","x":0.02,"y":0.0005},{"s":"0.9","x":0.026,"y":0.0005},
      {"s":"0.9","x":0.028,"y":0.002},{"s":"0.9","x":0.029,"y":0.014},{"s":"0.9","x":0.03,"y":0.026},{"s":"0.9","x":0.031,"y":0.03},{"s":"0.9","x":0.032,"y":0.035},{"s":"0.9","x":0.033,"y":0.026},{"s":"0.9","x":0.034,"y":0.029},{"s":"0.9","x":0.035,"y":0.022},{"s":"0.9","x":0.036,"y":0.025},{"s":"0.9","x":0.037,"y":0.019},{"s":"0.9","x":0.038,"y":0.021},{"s":"0.9","x":0.04,"y":0.016},{"s":"0.9","x":0.042,"y":0.015},{"s":"0.9","x":0.044,"y":0.013},{"s":"0.9","x":0.047,"y":0.0118},
      {"s":"0.9","x":0.05,"y":0.01},{"s":"0.9","x":0.052,"y":0.0065},{"s":"0.9","x":0.054,"y":0.0084},{"s":"0.9","x":0.0565,"y":0.0115},{"s":"0.9","x":0.0585,"y":0.009},{"s":"0.9","x":0.061,"y":0.008},{"s":"0.9","x":0.064,"y":0.0083},{"s":"0.9","x":0.067,"y":0.0096},{"s":"0.9","x":0.07,"y":0.0078},{"s":"0.9","x":0.073,"y":0.0086},{"s":"0.9","x":0.075,"y":0.009},{"s":"0.9","x":0.078,"y":0.0096},{"s":"0.9","x":0.081,"y":0.0076},{"s":"0.9","x":0.084,"y":0.0086},{"s":"0.9","x":0.087,"y":0.0072},{"s":"0.9","x":0.09,"y":0.0071},{"s":"0.9","x":0.093,"y":0.0086},{"s":"0.9","x":0.096,"y":0.007},{"s":"0.9","x":0.099,"y":0.0082},{"s":"0.9","x":0.103,"y":0.0086},{"s":"0.9","x":0.106,"y":0.0092},{"s":"0.9","x":0.109,"y":0.0062},{"s":"0.9","x":0.111,"y":0.0026},
      {"s":"0.9","x":0.113,"y":0.004},{"s":"0.9","x":0.117,"y":0.0118},{"s":"0.9","x":0.12,"y":0.011},{"s":"0.9","x":0.123,"y":0.009},{"s":"0.9","x":0.126,"y":0.0075},{"s":"0.9","x":0.129,"y":0.0056},{"s":"0.9","x":0.133,"y":0.0041},{"s":"0.9","x":0.137,"y":0.0032},{"s":"0.9","x":0.141,"y":0.0024},{"s":"0.9","x":0.147,"y":0.0016},{"s":"0.9","x":0.151,"y":0.0014},{"s":"0.9","x":0.155,"y":0.0013},{"s":"0.9","x":0.158,"y":0.0012},{"s":"0.9","x":0.162,"y":0.001},{"s":"0.9","x":0.166,"y":0.0009},{"s":"0.9","x":0.17,"y":0.0008},{"s":"0.9","x":0.175,"y":0.0007},{"s":"0.9","x":0.18,"y":0.0006},{"s":"0.9","x":0.187,"y":0.0005},{"s":"0.9","x":0.195,"y":0.0004},{"s":"0.9","x":0.203,"y":0.0004},
      {"s":"0.9","x":0.218,"y":0.0004},{"s":"0.9","x":0.233,"y":0.0004},{"s":"0.9","x":0.248,"y":0.0004},{"s":"0.9","x":0.263,"y":0.0004},{"s":"0.9","x":0.278,"y":0.0004},{"s":"0.9","x":0.285,"y":0.0004},{"s":"0.9","x":0.3,"y":0.0004},{"s":"0.9","x":0.315,"y":0.0004},{"s":"0.9","x":0.325,"y":0.0004},

      {"s":"CH₄","x":0,"y":0.0005},{"s":"CH₄","x":0.001,"y":0.007},{"s":"CH₄","x":0.002,"y":0.0033},{"s":"CH₄","x":0.004,"y":0.0007},{"s":"CH₄","x":0.008,"y":0.0005},{"s":"CH₄","x":0.016,"y":0.0005},{"s":"CH₄","x":0.02,"y":0.0005},{"s":"CH₄","x":0.026,"y":0.0006},
      {"s":"CH₄","x":0.028,"y":0.003},{"s":"CH₄","x":0.029,"y":0.02},{"s":"CH₄","x":0.03,"y":0.034},{"s":"CH₄","x":0.031,"y":0.04},{"s":"CH₄","x":0.032,"y":0.037},{"s":"CH₄","x":0.033,"y":0.03},{"s":"CH₄","x":0.034,"y":0.033},{"s":"CH₄","x":0.035,"y":0.028},{"s":"CH₄","x":0.036,"y":0.035},{"s":"CH₄","x":0.037,"y":0.03},{"s":"CH₄","x":0.038,"y":0.026},{"s":"CH₄","x":0.039,"y":0.03},{"s":"CH₄","x":0.04,"y":0.025},{"s":"CH₄","x":0.041,"y":0.032},{"s":"CH₄","x":0.042,"y":0.027},{"s":"CH₄","x":0.044,"y":0.024},{"s":"CH₄","x":0.047,"y":0.023},
      {"s":"CH₄","x":0.05,"y":0.019},{"s":"CH₄","x":0.052,"y":0.0115},{"s":"CH₄","x":0.054,"y":0.015},{"s":"CH₄","x":0.0565,"y":0.0196},{"s":"CH₄","x":0.0585,"y":0.0155},{"s":"CH₄","x":0.061,"y":0.013},{"s":"CH₄","x":0.064,"y":0.012},{"s":"CH₄","x":0.067,"y":0.0135},{"s":"CH₄","x":0.07,"y":0.011},{"s":"CH₄","x":0.073,"y":0.0124},{"s":"CH₄","x":0.075,"y":0.0115},{"s":"CH₄","x":0.078,"y":0.013},{"s":"CH₄","x":0.081,"y":0.0105},{"s":"CH₄","x":0.084,"y":0.012},{"s":"CH₄","x":0.087,"y":0.01},{"s":"CH₄","x":0.09,"y":0.0088},{"s":"CH₄","x":0.093,"y":0.0115},{"s":"CH₄","x":0.096,"y":0.0098},{"s":"CH₄","x":0.099,"y":0.011},{"s":"CH₄","x":0.103,"y":0.0101},{"s":"CH₄","x":0.106,"y":0.012},{"s":"CH₄","x":0.109,"y":0.008},{"s":"CH₄","x":0.111,"y":0.003},
      {"s":"CH₄","x":0.113,"y":0.005},{"s":"CH₄","x":0.117,"y":0.0148},{"s":"CH₄","x":0.12,"y":0.0125},{"s":"CH₄","x":0.123,"y":0.01},{"s":"CH₄","x":0.126,"y":0.0085},{"s":"CH₄","x":0.129,"y":0.0065},{"s":"CH₄","x":0.133,"y":0.0048},{"s":"CH₄","x":0.137,"y":0.0032},{"s":"CH₄","x":0.141,"y":0.0022},{"s":"CH₄","x":0.147,"y":0.0013},{"s":"CH₄","x":0.151,"y":0.001},{"s":"CH₄","x":0.155,"y":0.0008},{"s":"CH₄","x":0.158,"y":0.0007},{"s":"CH₄","x":0.162,"y":0.0006},{"s":"CH₄","x":0.166,"y":0.0005},{"s":"CH₄","x":0.17,"y":0.0004},{"s":"CH₄","x":0.175,"y":0.0004},{"s":"CH₄","x":0.18,"y":0.0004},{"s":"CH₄","x":0.187,"y":0.0004},{"s":"CH₄","x":0.195,"y":0.0004},{"s":"CH₄","x":0.203,"y":0.0004},
      {"s":"CH₄","x":0.218,"y":0.0004},{"s":"CH₄","x":0.233,"y":0.0004},{"s":"CH₄","x":0.248,"y":0.0004},{"s":"CH₄","x":0.263,"y":0.0004},{"s":"CH₄","x":0.278,"y":0.0004},{"s":"CH₄","x":0.285,"y":0.0004},{"s":"CH₄","x":0.3,"y":0.0004},{"s":"CH₄","x":0.315,"y":0.0004},{"s":"CH₄","x":0.325,"y":0.0004}
    ]
  },
  "layer": [
    {
      "mark": {"type": "line", "strokeWidth": 1.1, "clip": true},
      "encoding": {
        "x": {
          "field": "x", "type": "quantitative",
          "scale": {"domain": [-0.0024, 0.325], "nice": false, "zero": false},
          "axis": {
            "orient": "bottom", "values": [0, 0.05, 0.1, 0.15, 0.2, 0.25, 0.3], "format": ".2f",
            "title": "Center axis coordinate(m)", "grid": false,
            "tickSize": 6, "tickWidth": 1.2, "tickColor": "black",
            "domainWidth": 1.2, "domainColor": "black",
            "labelFont": "Liberation Serif, Times New Roman, DejaVu Serif, serif", "labelFontSize": 16, "labelColor": "black", "labelPadding": 5, "labelFlush": false, "labelOverlap": false,
            "titleFont": "Liberation Serif, Times New Roman, DejaVu Serif, serif", "titleFontSize": 19.5, "titleFontWeight": "normal", "titleColor": "black", "titlePadding": 11
          }
        },
        "y": {
          "field": "y", "type": "quantitative",
          "scale": {"domain": [0, 0.06], "nice": false},
          "axis": {
            "orient": "left", "values": [0, 0.01, 0.02, 0.03, 0.04, 0.05, 0.06], "format": ".2f",
            "title": "Heat release rate(W)", "grid": false,
            "tickSize": 6.5, "tickWidth": 1.2, "tickColor": "black",
            "domainWidth": 1.2, "domainColor": "black",
            "labelFont": "Liberation Serif, Times New Roman, DejaVu Serif, serif", "labelFontSize": 16, "labelColor": "black", "labelPadding": 5, "labelFlush": false, "labelOverlap": false,
            "titleFont": "Liberation Serif, Times New Roman, DejaVu Serif, serif", "titleFontSize": 19.5, "titleFontWeight": "normal", "titleColor": "black", "titlePadding": 0
          }
        },
        "stroke": {
          "field": "s", "type": "nominal",
          "sort": ["C₂H₅OH", "0.05", "0.1", "0.2", "0.3", "0.4", "0.5", "0.6", "0.7", "0.8", "0.9", "CH₄"],
          "scale": {
            "range": ["#5a5a5a", "#ff6464", "#4a7fe0", "#4fbf85", "#c58cf5", "#d4ad4a", "#3fd4d4", "#8a5f5f", "#a3a33c", "#ff8833", "#96b8e0", "#7cc242"]
          },
          "legend": {
            "orient": "none", "legendX": 349.5, "legendY": 18, "direction": "vertical",
            "title": null, "padding": 0, "symbolType": "M-3,0L3,0", "symbolSize": 225, "symbolStrokeWidth": 1.5,
            "labelOffset": 17.2,
            "labelFont": "Liberation Serif, Times New Roman, DejaVu Serif, serif", "labelFontSize": 18.5, "labelColor": "black", "rowPadding": 5.2
          }
        }
      }
    },
    {
      "transform": [
        {"filter": {"field": "x", "oneOf": [0.002, 0.008, 0.016, 0.0072, 0.0137, 0.0184, 0.0235, 0.031, 0.047, 0.061, 0.075, 0.09, 0.103, 0.117, 0.133, 0.147, 0.158, 0.17, 0.187, 0.203, 0.218, 0.233, 0.248, 0.263, 0.278, 0.285, 0.3, 0.315, 0.325]}}
      ],
      "mark": {"type": "point", "filled": true, "size": 60, "opacity": 1, "clip": true},
      "encoding": {
        "x": {
          "field": "x", "type": "quantitative",
          "axis": {"orient": "bottom", "values": [0.025, 0.075, 0.125, 0.175, 0.225, 0.275], "labels": false, "domain": false, "grid": false, "title": null, "tickSize": 3.5, "tickWidth": 1.2, "tickColor": "black"}
        },
        "y": {
          "field": "y", "type": "quantitative",
          "axis": {"orient": "left", "values": [0.005, 0.015, 0.025, 0.035, 0.045, 0.055], "labels": false, "domain": false, "grid": false, "title": null, "tickSize": 3.5, "tickWidth": 1.2, "tickColor": "black"}
        },
        "fill": {
          "field": "s", "type": "nominal",
          "scale": {
            "domain": ["C₂H₅OH", "0.05", "0.1", "0.2", "0.3", "0.4", "0.5", "0.6", "0.7", "0.8", "0.9", "CH₄"],
            "range": ["#000000", "#ff0000", "#00ee00", "#0000ff", "#00ffff", "#ff00ff", "#ffff00", "#808000", "#000080", "#800080", "#800000", "#4a9a30"]
          },
          "legend": {
            "orient": "none", "legendX": 353.5, "legendY": 18, "direction": "vertical",
            "title": null, "padding": 0, "symbolSize": 70, "symbolStrokeWidth": 0, "symbolOpacity": 1,
            "labelExpr": "' '",
            "labelFont": "Liberation Serif, Times New Roman, DejaVu Serif, serif", "labelFontSize": 18.5, "labelOpacity": 0, "rowPadding": 5.2
          }
        },
        "shape": {
          "field": "s", "type": "nominal",
          "scale": {
            "domain": ["C₂H₅OH", "0.05", "0.1", "0.2", "0.3", "0.4", "0.5", "0.6", "0.7", "0.8", "0.9", "CH₄"],
            "range": [
              "square", "circle", "triangle-up", "triangle-down", "diamond", "triangle-left", "triangle-right",
              "M0,-1L0.866,-0.5L0.866,0.5L0,1L-0.866,0.5L-0.866,-0.5Z",
              "M0,-1L0.2245,-0.309L0.9511,-0.309L0.3633,0.118L0.5878,0.809L0,0.382L-0.5878,0.809L-0.3633,0.118L-0.9511,-0.309L-0.2245,-0.309Z",
              "M0,-1L0.9511,-0.309L0.5878,0.809L-0.5878,0.809L-0.9511,-0.309Z",
              "circle",
              "M-1,-0.1L-0.1,-0.1L-0.1,-1L0.1,-1L0.1,-0.1L1,-0.1L1,0.1L0.1,0.1L0.1,1L-0.1,1L-0.1,0.1L-1,0.1Z"
            ]
          },
          "legend": {
            "orient": "none", "legendX": 353.5, "legendY": 18, "direction": "vertical",
            "title": null, "padding": 0, "symbolSize": 70, "symbolStrokeWidth": 0, "symbolOpacity": 1,
            "labelExpr": "' '",
            "labelFont": "Liberation Serif, Times New Roman, DejaVu Serif, serif", "labelFontSize": 18.5, "labelOpacity": 0, "rowPadding": 5.2
          }
        }
      }
    }
  ],
  "resolve": {"axis": {"x": "independent", "y": "independent"}},
  "config": {
    "view": {"stroke": "black", "strokeWidth": 1.2},
    "font": "Liberation Serif, Times New Roman, DejaVu Serif, serif"
  }
}
